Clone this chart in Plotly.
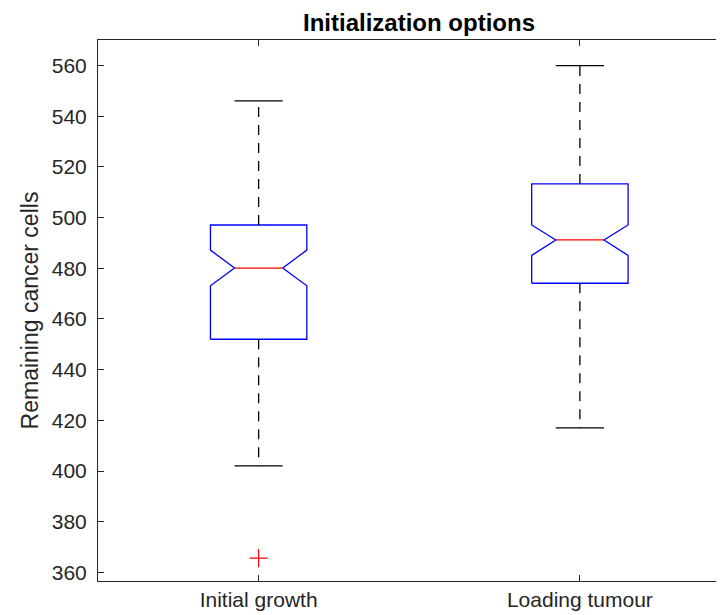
import plotly.graph_objects as go

categories = ["Initial growth", "Loading tumour"]
q1 = [452.0, 474.1]
median = [480.1, 491.2]
q3 = [497.1, 513.3]
notch_lo = [473.1, 485.1]
notch_hi = [487.2, 497.1]
whisker_lo = [402.0, 417.0]
whisker_hi = [546.1, 560.0]
outliers = [[365.6], []]
y_ticks = [360, 380, 400, 420, 440, 460, 480, 500, 520, 540, 560]

HALF = 0.15      # box half width (axis units)
NHALF = 0.075    # notch inner half width
CAP = 0.075      # whisker cap half width

fig = go.Figure()
for i, name in enumerate(categories):
    x0 = i + 1
    bx = [x0 - HALF, x0 - HALF, x0 - NHALF, x0 - HALF, x0 - HALF,
          x0 + HALF, x0 + HALF, x0 + NHALF, x0 + HALF, x0 + HALF, x0 - HALF]
    by = [q1[i], notch_lo[i], median[i], notch_hi[i], q3[i],
          q3[i], notch_hi[i], median[i], notch_lo[i], q1[i], q1[i]]
    fig.add_trace(go.Scatter(x=bx, y=by, mode="lines",
                             line=dict(color="#0000ff", width=1.3),
                             hoverinfo="skip", showlegend=False))
    fig.add_trace(go.Scatter(x=[x0 - NHALF, x0 + NHALF], y=[median[i], median[i]],
                             mode="lines", line=dict(color="#ff0000", width=1.3),
                             showlegend=False))
    fig.add_trace(go.Scatter(x=[x0, x0, None, x0, x0],
                             y=[q3[i], whisker_hi[i], None, q1[i], whisker_lo[i]],
                             mode="lines", line=dict(color="#000000", width=1.3, dash="10px,8px"),
                             showlegend=False))
    fig.add_trace(go.Scatter(x=[x0 - CAP, x0 + CAP, None, x0 - CAP, x0 + CAP],
                             y=[whisker_hi[i], whisker_hi[i], None, whisker_lo[i], whisker_lo[i]],
                             mode="lines", line=dict(color="#000000", width=1.3),
                             showlegend=False))
    if outliers[i]:
        fig.add_trace(go.Scatter(x=[x0] * len(outliers[i]), y=outliers[i], mode="markers",
                                 marker=dict(symbol="cross-thin", size=13,
                                             line=dict(color="#ff0000", width=1.2)),
                                 showlegend=False))

fig.update_layout(
    width=724, height=615,
    margin=dict(l=90, r=0, t=32, b=42),
    paper_bgcolor="white", plot_bgcolor="white",
    font=dict(family="Liberation Sans, Arial, sans-serif", color="#262626", size=21),
    title=dict(text="<b>Initialization options</b>", x=(90 + 732) / 2 / 724, xanchor="center",
               y=1 - 15 / 615, yanchor="middle", font=dict(size=24, color="#000000")),
    showlegend=False,
)
fig.update_xaxes(range=[0.5, 2.5 - 8.5 / 321], tickvals=[1, 2], ticktext=categories,
                 ticks="inside", ticklen=6, tickcolor="#262626",
                 showline=True, linecolor="#262626", linewidth=1, mirror="ticks",
                 showgrid=False, zeroline=False, tickfont=dict(size=21),
                 ticklabelstandoff=0)
fig.update_yaxes(range=[356.6, 570.1], tickvals=y_ticks,
                 ticks="inside", ticklen=6, tickcolor="#262626",
                 showline=True, linecolor="#262626", linewidth=1, mirror=False,
                 showgrid=False, zeroline=False, tickfont=dict(size=21),
                 ticklabelstandoff=6,
                 title=dict(text="Remaining cancer cells", font=dict(size=23), standoff=6))

fig.write_html("out.html")
